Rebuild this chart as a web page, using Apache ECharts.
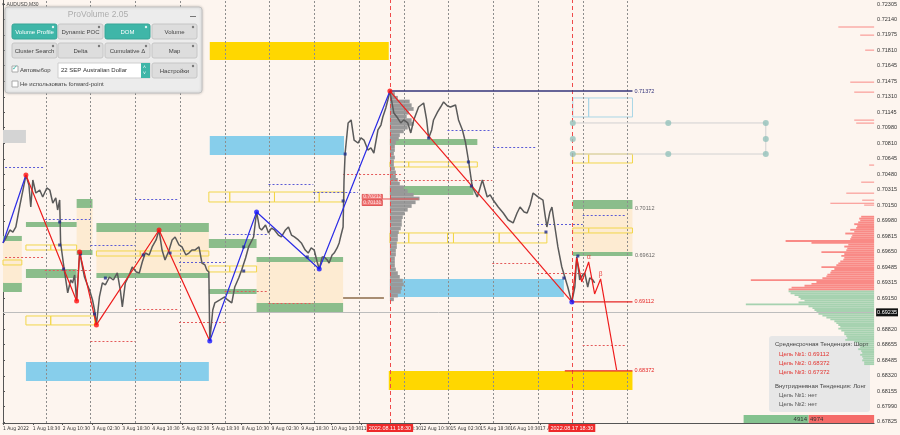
<!DOCTYPE html>
<html>
<head>
<meta charset="utf-8">
<script src="https://cdn.jsdelivr.net/npm/echarts@6/dist/echarts.min.js"></script>
<style>
  html, body { margin: 0; padding: 0; background: #fdf5ef; }
  #chart { width: 900px; height: 435px; }
</style>
</head>
<body>
<div id="chart"></div>
<script>
// time axis is in trading hours from the first bar, price axis in AUDUSD quotes
var timeTicks = [0, 16, 32, 48, 64, 80, 96, 112, 128, 144, 160, 176, 192, 208, 224, 240, 256, 272, 288, 304];
var timeLabels = ['1 Aug 2022', '1 Aug 18:30', '2 Aug 10:30', '3 Aug 02:30', '3 Aug 18:30', '4 Aug 10:30',
  '5 Aug 02:30', '5 Aug 18:30', '8 Aug 10:30', '9 Aug 02:30', '9 Aug 18:30', '10 Aug 10:30', '11 Aug 02:30',
  '11 Aug 18:30', '12 Aug 10:30', '15 Aug 02:30', '15 Aug 18:30', '16 Aug 10:30', '17 Aug 02:30', '17 Aug 18:30'];
var priceTicks = [0.72305, 0.72140, 0.71975, 0.71810, 0.71645, 0.71475, 0.71310, 0.71145, 0.70980, 0.70810,
  0.70645, 0.70480, 0.70315, 0.70150, 0.69980, 0.69815, 0.69650, 0.69485, 0.69315, 0.69150, 0.68985, 0.68820,
  0.68655, 0.68485, 0.68320, 0.68155, 0.67990, 0.67825];
var dayLines = [23, 47, 71, 95, 119, 143, 167, 191, 215, 239, 263, 287, 311, 335];
var markedTimes = [207.5, 305.1];
var markedTimeLabels = ['2022.08.11 18:30', '2022.08.17 18:30'];
var currentPrice = 0.69235;

var price = [[0,0.69744],[1.6,0.69797],[3.7,0.69883],[5.3,0.69861],[6.9,0.69915],[9.1,0.70151],[10.7,0.70311],[12.3,0.70472],
  [13.9,0.70365],[14.9,0.70129],[16,0.70419],[17.6,0.70279],[19.7,0.70311],[21.3,0.70237],[23.5,0.70333],[25.1,0.70311],
  [26.7,0.70172],[28.3,0.70226],[29.3,0.70097],[30.4,0.70204],[30.9,0.69744],[33.1,0.69422],[34.7,0.69208],[36.3,0.69347],
  [37.3,0.69315],[38.4,0.69401],[39.5,0.69122],[41.1,0.69647],[42.7,0.69476],[43.7,0.69379],[45.3,0.69294],[46.4,0.69240],
  [48,0.69133],[49.1,0.69025],[50.1,0.68865],[51.7,0.69165],[53.3,0.69315],[54.9,0.69294],[57.1,0.69379],[59.2,0.69347],
  [61.3,0.69422],[62.9,0.69240],[64,0.69058],[65.6,0.69315],[67.7,0.69401],[69.3,0.69486],[71.5,0.69433],[73.1,0.69422],
  [74.7,0.69540],[76.3,0.69636],[78.4,0.69615],[80,0.69701],[82.1,0.69776],[83.7,0.69883],[85.3,0.69668],[86.9,0.69561],
  [89.1,0.69668],[90.7,0.69776],[92.3,0.69808],[94.4,0.69722],[96,0.69701],[98.1,0.69615],[99.7,0.69636],[101.3,0.69668],
  [102.9,0.69668],[105.1,0.69701],[106.7,0.69529],[108.3,0.69508],[109.3,0.69454],[110.4,0.69433],[110.9,0.68693],
  [112.5,0.69025],[113.6,0.69101],[116.3,0.69133],[118.9,0.69165],[120.5,0.69133],[122.7,0.69101],[124.3,0.69272],
  [126.4,0.69369],[128,0.69454],[130.1,0.69583],[131.7,0.69701],[134.4,0.69808],[136,0.70076],[137.6,0.69904],
  [138.7,0.69883],[140.8,0.69937],[142.4,0.69851],[144,0.69904],[145.6,0.69883],[147.7,0.69829],[149.3,0.69808],
  [151.5,0.69883],[153.1,0.69915],[154.7,0.69829],[156.3,0.69808],[158.4,0.69776],[160,0.69744],[162.1,0.69668],
  [163.7,0.69636],[165.3,0.69690],[166.9,0.69668],[168.5,0.69540],[169.6,0.69465],[171.2,0.69594],[172.3,0.69594],
  [173.9,0.69561],[174.9,0.69529],[176.5,0.69615],[177.6,0.69636],[179.2,0.69690],[180.3,0.69744],[181.3,0.69829],
  [182.4,0.69915],[182.9,0.70419],[183.5,0.70708],[185.1,0.71030],[186.7,0.71062],[188.3,0.70847],[190.4,0.70815],
  [192,0.70869],[193.6,0.70847],[195.7,0.70740],[197.3,0.70762],[198.9,0.70708],[201.1,0.70955],[202.7,0.71008],
  [203.7,0.71094],[205.3,0.71190],[206.4,0.71276],[207.5,0.71372],[209.6,0.71137],[211.7,0.71083],[213.3,0.71030],
  [214.9,0.71062],[217.1,0.71030],[218.7,0.70923],[220.3,0.71062],[222.9,0.71201],[225.6,0.71244],[227.2,0.71062],
  [228.3,0.70869],[229.9,0.70955],[230.9,0.71062],[233.1,0.71148],[234.7,0.71201],[236.3,0.71255],[238.4,0.71212],
  [240,0.71201],[242.7,0.71223],[244.3,0.71062],[246.4,0.70955],[248,0.70826],[249.6,0.70633],[251.7,0.70344],
  [254.4,0.70237],[257.1,0.70419],[259.7,0.70237],[261.3,0.70258],[262.9,0.70204],[265.6,0.70129],[268.3,0.70065],
  [270.9,0.69990],[273.6,0.69958],[275.7,0.70065],[277.3,0.70129],[279.5,0.70076],[281.1,0.70065],[282.7,0.70151],
  [284.3,0.70279],[286.9,0.70237],[289.6,0.70204],[290.7,0.70044],[291.7,0.69915],[293.3,0.70076],[294.4,0.70129],
  [296,0.69915],[297.6,0.69701],[299.7,0.69486],[301.3,0.69379],[302.9,0.69272],[304,0.69186],[305.1,0.69112],
  [306.7,0.69272],[307.7,0.69594],[308.8,0.69433],[309.3,0.69347],[310.9,0.69401],[312,0.69422],[313.6,0.69272],
  [314.7,0.69369],[316.3,0.69347],[317.3,0.69315]];

// zigzag legs
var zigBlueA = [[0,0.69744],[12.3,0.70472]];
var zigRedA = [[12.3,0.70472],[39.5,0.69122],[41.1,0.69647],[50.1,0.68865],[83.7,0.69883],[110.9,0.68693]];
var zigBlueB = [[110.9,0.68693],[136,0.70076],[169.6,0.69465],[207.5,0.71372]];
var zigRedB = [[207.5,0.71372],[305.1,0.69112]];
var projection = [[305.1,0.69112],[307.7,0.69583],[310.4,0.69326],[314.1,0.69540],[317.3,0.69197],[320.5,0.69358],[329.1,0.68382]];
var redPivots = [[12.3,0.70472],[39.5,0.69122],[41.1,0.69647],[50.1,0.68865],[83.7,0.69883],[207.5,0.71372]];
var bluePivots = [[110.9,0.68693],[136,0.70076],[169.6,0.69465],[305.1,0.69112]];
var waveMarks = [[314.1,0.69540],[320.5,0.69358]];
var waveNames = ['α', 'β'];
var smallMarks = [[30.4,0.69969],[30.4,0.69722],[32.5,0.69465],[41.6,0.69626],[49.1,0.68983],[54.9,0.69368],[75.2,0.69615],
  [89.6,0.69636],[129.1,0.69701],[129.1,0.69443],[163.2,0.69594],[183.5,0.70697],[182.4,0.70194],[228.3,0.70869],
  [249.6,0.70612],[251.2,0.70354],[291.2,0.69861],[300.8,0.69368],[308.3,0.69604]];

// zones: [fromHour, toHour, topPrice, bottomPrice]
var goldZones = [[110.9,206.9,0.71898,0.71705],[206.9,337.6,0.68372,0.68168]];
var blueZones = [[110.9,182.9,0.70890,0.70687],[12.3,110.4,0.68468,0.68264],[207.5,300.8,0.69358,0.69165]];
var grayZones = [[0,12.3,0.70955,0.70815]];
var greenZones = [[0,10.1,0.69819,0.69765],[0,10.1,0.69315,0.69218],[39.5,48,0.70215,0.70119],[39.5,48,0.69668,0.69615],
  [12.3,39.5,0.69969,0.69915],[12.3,39.5,0.69465,0.69368],[50.1,110.4,0.69958,0.69861],[50.1,110.4,0.69422,0.69368],
  [110.4,136,0.69786,0.69690],[110.4,136,0.69251,0.69197],[136,182.4,0.69594,0.69540],[136,182.4,0.69101,0.69004],
  [207.5,254.4,0.70858,0.70794],[207.5,252.3,0.70355,0.70258],[305.6,337.6,0.70204,0.70108],[305.6,337.6,0.69647,0.69604]];
var bisqueZones = [[0,10.1,0.69765,0.69315],[39.5,48,0.70119,0.69668],[50.1,110.4,0.69861,0.69422],
  [136,182.4,0.69540,0.69101],[305.6,337.6,0.70108,0.69647]];
var yellowBoxes = [[0,10.1,0.69561,0.69508],
  [12.3,25.6,0.69722,0.69668],[25.6,39.5,0.69722,0.69668],
  [12.3,25.6,0.68961,0.68865],[25.6,49.1,0.68961,0.68865],
  [50.1,73.6,0.69658,0.69604],[73.6,110.4,0.69658,0.69604],
  [110.4,121.6,0.70290,0.70183],[121.6,145.6,0.70290,0.70183],[145.6,169.6,0.70290,0.70183],[169.6,182.9,0.70290,0.70183],
  [110.4,121.6,0.69497,0.69433],[121.6,136,0.69497,0.69433],
  [207.5,217.6,0.70612,0.70558],[217.6,238.9,0.70612,0.70558],[238.9,254.4,0.70612,0.70558],
  [207.5,217.6,0.69851,0.69744],[217.6,238.4,0.69851,0.69744],[238.4,241.6,0.69851,0.69744],[241.6,266.1,0.69851,0.69744],[266.1,291.7,0.69851,0.69744],
  [305.6,314.1,0.70697,0.70601],[314.1,337.6,0.70697,0.70601],
  [305.6,314.1,0.69904,0.69851],[314.1,337.6,0.69904,0.69851]];
var lightBlueBoxes = [[305.6,314.1,0.71298,0.71094],[314.1,337.6,0.71298,0.71094]];

// dotted levels: [fromHour, toHour, price]
var blueDotted = [[1.1,22.4,0.70558],[22.4,46.9,0.70001],[46.9,70.9,0.69722],[70.9,94.4,0.70215],[94.4,118.9,0.69540],
  [118.9,142.4,0.69840],[142.4,166.4,0.70376],[166.4,190.4,0.70290],[238.4,262.4,0.70955],[262.9,286.4,0.70772],
  [286.4,310.9,0.69947],[310.9,334.4,0.70044]];
var redDotted = [[1.1,22.4,0.69593],[22.4,46.9,0.69454],[46.9,70.9,0.68693],[70.9,94.4,0.69036],[94.4,118.9,0.68897],
  [118.9,142.4,0.69229],[142.4,166.4,0.69101],[182.4,213.3,0.70483],[208,262.4,0.70419],[262.4,286.4,0.69529],
  [286.4,310.9,0.69422],[310.9,334.4,0.68650]];

// target levels
var highLevel = [[207.5,0.71372],[337.6,0.71372]];
var target1 = [[305.1,0.69112],[337.6,0.69112]];
var target2 = [[301.3,0.68372],[337.6,0.68372]];
var brownLevel = [[182.4,0.69154],[204.3,0.69154]];
var pocLevel = [[203.7,0.70215],[222.9,0.70215]];
var zoneLabelPos = [[337.6,0.70112],[337.6,0.69612]];
var zoneLabelText = ['0.70112', '0.69612'];
var pocLabelPos = [[203.7,0.70237],[203.7,0.70172]];
var pocLabelText = ['0.70212', '0.70131'];
var channelLine = [[305.6,0.71030],[409.1,0.71030],[409.1,0.70697],[305.6,0.70697]];
var channelDots = [[305.6,0.71030],[356.8,0.71030],[409.1,0.71030],[305.6,0.70858],[409.1,0.70858],
  [305.6,0.70697],[356.8,0.70697],[409.1,0.70697]];

// volume profile of the peak session (starts at the high)
var grayStart = 207.5;
var grayLevels = [0.71340,0.71300,0.71260,0.71220,0.71180,0.71140,0.71100,0.71060,0.71020,0.70980,0.70940,0.70900,
  0.70860,0.70820,0.70780,0.70740,0.70700,0.70660,0.70620,0.70580,0.70540,0.70500,0.70460,0.70420,0.70380,0.70340,
  0.70300,0.70260,0.70220,0.70180,0.70140,0.70100,0.70060,0.70020,0.69980,0.69940,0.69900,0.69860,0.69820,0.69780,
  0.69740,0.69700,0.69660,0.69620,0.69580,0.69540,0.69500,0.69460,0.69420,0.69380,0.69340,0.69300,0.69260,0.69220,
  0.69180,0.69140];
var grayVol = [5,8,20,22,24,19,17,22,24,18,14,10,9,6,5,5,4,5,4,4,5,6,6,8,10,14,18,24,30,26,22,18,15,13,12,12,11,9,8,8,
  7,7,6,6,5,5,5,6,8,10,13,14,12,11,8,4];

// DOM profile at the right edge
var redLevels = [0.69245,0.69265,0.69285,0.69305,0.69325,0.69345,0.69365,0.69385,0.69405,0.69425,0.69445,0.69465,
  0.69485,0.69505,0.69525,0.69545,0.69565,0.69585,0.69605,0.69625,0.69645,0.69665,0.69685,0.69705,0.69725,0.69745,
  0.69765,0.69785,0.69805,0.69825,0.69845,0.69865,0.69885,0.69905,0.69925,0.69945,0.69965,0.69985,0.70005,0.70025];
var redVol = [86,83,70,63,58,124,52,48,47,44,43,40,53,38,36,34,31,30,33,30,53,28,27,30,26,63,89,24,23,22,29,20,24,18,
  17,20,16,14,15,13];
var redStreakLevels = [0.70172,0.70151,0.70204,0.70279,0.70397,0.70580,0.71030,0.71062,0.71362,0.71469,0.71812,0.71973,0.72059];
var redStreakVol = [44,10,12,28,13,5,18,20,20,24,9,14,36];
var greenLevels = [0.69225,0.69205,0.69185,0.69165,0.69145,0.69125,0.69105,0.69085,0.69065,0.69045,0.69025,0.69005,
  0.68985,0.68965,0.68945,0.68925,0.68905,0.68885,0.68865,0.68845,0.68825,0.68805,0.68785,0.68765,0.68745,0.68725,
  0.68705,0.68685,0.68665,0.68645,0.68625,0.68605,0.68585,0.68565,0.68545,0.68525,0.68505,0.68485,0.68465,0.68445];
var greenVol = [86,84,80,76,74,70,76,129,66,62,60,58,56,52,48,44,40,38,36,34,36,33,30,30,28,27,29,20,16,15,14,16,13,
  12,14,12,11,12,10,10];
var deltaBuy = 4914;
var deltaSell = 4974;

var FONT = 'Liberation Sans, Arial, sans-serif';
var NARROW = 'Liberation Sans Narrow, DejaVu Sans Condensed, Liberation Sans, sans-serif';

var chart = echarts.init(document.getElementById('chart'));

function zoneSeries(data, fill, stroke, z) {
  return {
    type: 'custom', data: data, z: z, silent: true,
    encode: { x: [0, 1], y: [2, 3] },
    renderItem: function (params, api) {
      var a = api.coord([api.value(0), api.value(2)]);
      var b = api.coord([api.value(1), api.value(3)]);
      return {
        type: 'rect',
        shape: { x: a[0], y: a[1], width: b[0] - a[0], height: b[1] - a[1] },
        style: stroke ? { fill: 'none', stroke: stroke, lineWidth: 1 } : { fill: fill }
      };
    }
  };
}

function profileSeries(levels, vols, half, color, axis) {
  return {
    type: 'custom', xAxisIndex: axis, z: 4, silent: true,
    data: levels.map(function (p, i) { return [p, vols[i]]; }),
    encode: { x: 1, y: 0 },
    renderItem: function (params, api) {
      var p = api.value(0), v = api.value(1);
      var x0 = axis === 0 ? grayStart : 0;
      var x1 = axis === 0 ? grayStart + v * 0.53 : v;
      var a = api.coord([x0, p + half]);
      var b = api.coord([x1, p - half]);
      return {
        type: 'rect',
        shape: { x: Math.min(a[0], b[0]), y: a[1], width: Math.abs(b[0] - a[0]), height: Math.max(1, b[1] - a[1]) },
        style: { fill: color }
      };
    }
  };
}

function segLines(list, color) {
  return list.map(function (s) {
    return [{ coord: [s[0], s[2]], lineStyle: { color: color } }, { coord: [s[1], s[2]] }];
  });
}

function lineSeries(data, color, width, z, label, labelColor) {
  var s = {
    type: 'line', data: data, z: z, silent: true, symbol: 'none',
    lineStyle: { color: color, width: width }
  };
  if (label) {
    s.endLabel = { show: true, formatter: label, color: labelColor || color, fontSize: 5.5, fontFamily: FONT, distance: 2 };
  }
  return s;
}

function button(x, y, text, on) {
  return [
    { type: 'rect', x: x, y: y, z: 101, shape: { width: 45, height: 15, r: 2 },
      style: { fill: on ? '#3fb6a8' : '#dddddd', stroke: on ? '#37a596' : '#c6c6c6', lineWidth: 1 } },
    { type: 'circle', x: x + 41, y: y + 3, z: 102, shape: { r: 1.2 }, style: { fill: on ? '#e0f5f2' : '#777' } },
    { type: 'text', x: x + 22.5, y: y + 8.5, z: 102,
      style: { text: text, fill: on ? '#ffffff' : '#444', font: '6px ' + FONT,
        textAlign: 'center', textVerticalAlign: 'middle', align: 'center', verticalAlign: 'middle' } }
  ];
}

function txt(x, y, text, color, size, z) {
  return { type: 'text', x: x, y: y, z: z,
    style: { text: text, fill: color, font: size + 'px ' + FONT, textVerticalAlign: 'middle', verticalAlign: 'middle' } };
}

var graphics = [
  txt(2, 5, '▾ AUDUSD,M30', '#444', 5, 99),
  { type: 'rect', x: 5, y: 7, z: 100, shape: { width: 197, height: 86, r: 3 },
    style: { fill: '#ececec', stroke: '#c2c2c2', lineWidth: 1, shadowBlur: 3, shadowColor: 'rgba(0,0,0,0.2)' } },
  { type: 'text', x: 98, y: 14.5, z: 101,
    style: { text: 'ProVolume 2.05', fill: '#adadad', font: '8.5px ' + FONT,
      textAlign: 'center', textVerticalAlign: 'middle', align: 'center', verticalAlign: 'middle' } },
  { type: 'rect', x: 190, y: 16, z: 101, shape: { width: 6, height: 1 }, style: { fill: '#777' } }
];
graphics = graphics.concat(
  button(12, 24, 'Volume Profile', true), button(58, 24, 'Dynamic POC', false),
  button(105, 24, 'DOM', true), button(152, 24, 'Volume', false),
  button(12, 43, 'Cluster Search', false), button(58, 43, 'Delta', false),
  button(105, 43, 'Cumulative Δ', false), button(152, 43, 'Map', false),
  button(152, 63, 'Настройки', false)
);
graphics.push(
  { type: 'rect', x: 12, y: 66, z: 101, shape: { width: 6, height: 6 }, style: { fill: '#fff', stroke: '#aaa', lineWidth: 1 } },
  txt(12, 68, '✓', '#3fb6a8', 7, 102),
  txt(20, 70.5, 'Автовыбор', '#444', 6, 102),
  { type: 'rect', x: 58, y: 63, z: 101, shape: { width: 92, height: 15 }, style: { fill: '#ffffff', stroke: '#cfcfcf', lineWidth: 1 } },
  txt(61, 70.5, '22 SEP Australian Dollar', '#333', 6, 102),
  { type: 'rect', x: 141, y: 63, z: 102, shape: { width: 9, height: 15 }, style: { fill: '#3fb6a8' } },
  txt(143, 68, '˄', '#fff', 5, 103),
  txt(143, 74, '˅', '#fff', 5, 103),
  { type: 'rect', x: 12, y: 81, z: 101, shape: { width: 6, height: 6 }, style: { fill: '#fff', stroke: '#aaa', lineWidth: 1 } },
  txt(20, 84.5, 'Не использовать forward-point', '#444', 6, 102),
  // trend box
  { type: 'rect', x: 769, y: 336, z: 1, shape: { width: 101, height: 76, r: 3 }, style: { fill: '#e7e7e7' } },
  txt(775, 344, 'Среднесрочная Тенденция: Шорт', '#444', 6, 20),
  txt(779, 354, 'Цель №1: 0.69112', '#e2332f', 6, 20),
  txt(779, 363, 'Цель №2: 0.68372', '#e2332f', 6, 20),
  txt(779, 372, 'Цель №3: 0.67372', '#e2332f', 6, 20),
  txt(775, 386, 'Внутридневная Тенденция: Лонг', '#444', 6, 20),
  txt(779, 395, 'Цель №1: нет', '#555', 6, 20),
  txt(779, 404, 'Цель №2: нет', '#555', 6, 20)
);

var option = {
  animation: false,
  backgroundColor: '#fdf5ef',
  grid: { left: 0, right: 24, top: 0, bottom: 12 },
  xAxis: [{
    type: 'value', min: 0, max: 467.2,
    axisLine: { show: true, lineStyle: { color: '#555', width: 1 } },
    axisTick: { show: true, customValues: timeTicks, length: 2, lineStyle: { color: '#555' } },
    axisLabel: {
      customValues: timeTicks, align: 'left', fontSize: 5, fontFamily: NARROW, color: '#333', margin: 3,
      formatter: function (v) { var i = timeTicks.indexOf(v); return i >= 0 ? timeLabels[i] : ''; }
    },
    splitLine: { show: false }
  }, {
    type: 'value', min: 0, max: 876, inverse: true, show: false
  }, {
    type: 'value', min: 0, max: 66000, inverse: true, show: false
  }],
  yAxis: {
    type: 'value', position: 'right', min: 0.67814, max: 0.72348, scale: true,
    axisLine: { show: true, lineStyle: { color: '#555', width: 1 } },
    axisTick: { show: true, customValues: priceTicks, length: 2, lineStyle: { color: '#555' } },
    axisLabel: {
      customValues: priceTicks, fontSize: 5.5, fontFamily: FONT, color: '#333', margin: 3,
      formatter: function (v) { return v.toFixed(5); }
    },
    splitLine: { show: false }
  },
  graphic: graphics,
  series: [
    zoneSeries(bisqueZones, '#fdebd2', null, 1),
    zoneSeries(goldZones, '#ffd700', null, 2),
    zoneSeries(blueZones, '#87ceeb', null, 2),
    zoneSeries(grayZones, '#d4d4d4', null, 2),
    zoneSeries(greenZones, '#8bbd8b', null, 2),
    zoneSeries(yellowBoxes, null, '#f2d64a', 3),
    zoneSeries(lightBlueBoxes, null, '#a9d6e6', 3),
    profileSeries(grayLevels, grayVol, 0.0002, '#999999', 0),
    profileSeries(redLevels, redVol, 0.0001, '#f98a86', 1),
    profileSeries(redStreakLevels, redStreakVol, 0.00004, '#f98a86', 1),
    profileSeries(greenLevels, greenVol, 0.0001, '#a6d2b0', 1),
    {
      // day separators, time markers and the current price line
      type: 'line', data: [], z: 4, silent: true,
      markLine: {
        silent: true, symbol: ['none', 'none'], animation: false,
        data: dayLines.map(function (h) {
          return { xAxis: h, lineStyle: { color: '#8d8d8d', type: [2, 2], width: 1 }, label: { show: false } };
        }).concat(markedTimes.map(function (h, i) {
          return { xAxis: h, lineStyle: { color: '#ef4a4a', type: [4, 3], width: 1 },
            label: { show: true, position: 'start', distance: 1, formatter: markedTimeLabels[i],
              backgroundColor: '#ee2a2a', color: '#fff', fontSize: 5.5, fontFamily: FONT, padding: [1, 2] } };
        })).concat([{
          yAxis: currentPrice, lineStyle: { color: '#bdbdbd', type: 'solid', width: 1 },
          label: { show: true, position: 'end', distance: 2, formatter: currentPrice.toFixed(5),
            backgroundColor: '#111', color: '#fff', fontSize: 5.5, fontFamily: FONT, padding: [1, 1] }
        }])
      }
    },
    {
      type: 'line', data: [], z: 5, silent: true,
      markLine: {
        silent: true, symbol: ['none', 'none'], animation: false,
        lineStyle: { type: [2, 2], width: 1 }, label: { show: false },
        data: segLines(blueDotted, '#5b5bd6').concat(segLines(redDotted, '#e45a5a'))
      }
    },
    lineSeries(channelLine, '#d2d2d2', 1, 5),
    { type: 'scatter', data: channelDots, z: 5, silent: true, symbolSize: 6, itemStyle: { color: '#94c2bc' } },
    lineSeries(brownLevel, '#a88d72', 2, 5),
    lineSeries(pocLevel, '#e85050', 1, 5),
    lineSeries(price, '#5a5a5a', 1.5, 6),
    lineSeries(zigBlueA, '#2b2be6', 1.2, 7),
    lineSeries(zigRedA, '#ee1c1c', 1.2, 7),
    lineSeries(zigBlueB, '#2b2be6', 1.2, 7),
    lineSeries(zigRedB, '#ee1c1c', 1.2, 7),
    lineSeries(projection, '#ee1c1c', 1.2, 7),
    lineSeries(highLevel, '#33337a', 1.5, 7, '0.71372', '#33337a'),
    lineSeries(target1, '#e52424', 1.2, 7, '0.69112', '#e52424'),
    lineSeries(target2, '#e52424', 1.2, 7, '0.68372', '#e52424'),
    { type: 'scatter', data: smallMarks, z: 8, silent: true, symbol: 'rect', symbolSize: 3, itemStyle: { color: '#1d2a8a' } },
    { type: 'scatter', data: redPivots, z: 8, silent: true, symbolSize: 5, itemStyle: { color: '#ff1010' } },
    { type: 'scatter', data: bluePivots, z: 8, silent: true, symbolSize: 5, itemStyle: { color: '#1515ff' } },
    {
      type: 'scatter', data: waveMarks, z: 8, silent: true, symbolSize: 1, itemStyle: { color: 'rgba(0,0,0,0)' },
      label: { show: true, position: 'top', distance: 1, color: '#e52424', fontSize: 7, fontFamily: FONT,
        formatter: function (p) { return waveNames[p.dataIndex]; } }
    },
    {
      type: 'scatter', data: zoneLabelPos, z: 8, silent: true, symbolSize: 1, itemStyle: { color: 'rgba(0,0,0,0)' },
      label: { show: true, position: 'right', distance: 2, color: '#444', fontSize: 5.5, fontFamily: FONT,
        formatter: function (p) { return zoneLabelText[p.dataIndex]; } }
    },
    {
      type: 'scatter', data: pocLabelPos, z: 9, silent: true, symbolSize: 1, itemStyle: { color: 'rgba(0,0,0,0)' },
      label: { show: true, position: 'left', distance: 0, color: '#fff', fontSize: 5, fontFamily: FONT,
        backgroundColor: '#ee5a5a', borderColor: '#d03030', borderWidth: 0.5, padding: [0, 1],
        formatter: function (p) { return pocLabelText[p.dataIndex]; } }
    },
    {
      type: 'custom', xAxisIndex: 2, z: 6, silent: true,
      data: [[0, deltaSell], [deltaSell, deltaSell + deltaBuy]],
      encode: { x: [0, 1] },
      renderItem: function (params, api) {
        var a = api.coord([api.value(0), 0.67900]);
        var b = api.coord([api.value(1), 0.67814]);
        var sell = params.dataIndex === 0;
        var left = Math.min(a[0], b[0]), w = Math.abs(b[0] - a[0]);
        return {
          type: 'group',
          children: [
            { type: 'rect', shape: { x: left, y: a[1], width: w, height: b[1] - a[1] },
              style: { fill: sell ? '#f56b68' : '#84c28f' } },
            { type: 'text', x: sell ? left + 1.5 : left + w - 1.5, y: (a[1] + b[1]) / 2,
              style: { text: String(sell ? deltaSell : deltaBuy), fill: '#333', font: '6px ' + FONT,
                align: sell ? 'left' : 'right', verticalAlign: 'middle' } }
          ]
        };
      }
    }
  ]
};

chart.setOption(option);
</script>
</body>
</html>
